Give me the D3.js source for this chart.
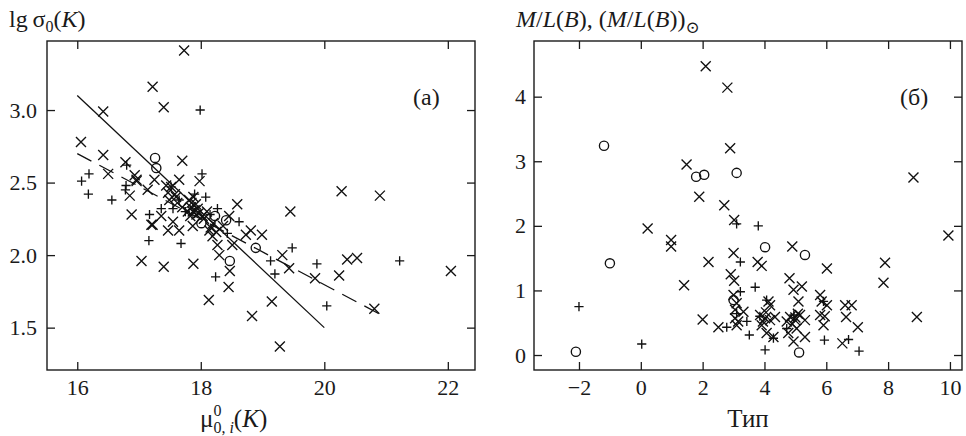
<!DOCTYPE html>
<meta charset="utf-8">
<style>
body{margin:0;background:#fff}
svg text{font-family:"Liberation Serif","Times New Roman","DejaVu Serif",serif;fill:#1a1a1a}
.frame{fill:none;stroke:#1a1a1a;stroke-width:1.4}
.tk line{stroke:#1a1a1a;stroke-width:1.3}
.tk text{font-size:22px}
.mk{fill:none;stroke:#111;stroke-width:1.35}
</style>
<script src="https://d3js.org/d3.v7.min.js"></script>
<svg id="fig" width="966" height="436"></svg>
<script>
// panel (a): lg sigma0 vs mu0
var aTicksX=[16,18,20,22], aTicksY=[1.5,2.0,2.5,3.0];
var aCross=[[17.73,3.41],[17.22,3.16],[16.42,2.99],[17.40,3.02],[16.06,2.78],[16.42,2.69],[17.70,2.65],[16.50,2.56],
 [16.78,2.64],[16.93,2.55],[16.96,2.51],[17.14,2.45],[17.25,2.52],[17.44,2.48],[17.65,2.52],[17.98,2.51],[16.85,2.41],
 [16.88,2.28],[17.22,2.21],[17.36,2.27],[17.49,2.38],[17.47,2.43],[17.52,2.47],[17.47,2.17],[17.65,2.17],[17.55,2.23],
 [17.81,2.38],[17.84,2.33],[17.87,2.30],[17.79,2.30],[17.92,2.35],[17.88,2.40],[17.93,2.28],[18.03,2.27],[17.87,2.20],
 [18.14,2.17],[18.19,2.13],[18.16,2.19],[18.27,2.07],[18.30,2.00],[18.59,2.35],[18.46,2.27],[18.51,2.07],[18.73,2.14],
 [18.81,2.17],[18.99,2.14],[19.45,2.30],[19.32,2.00],[19.43,1.91],[20.28,2.44],[20.90,2.41],[20.37,1.97],[20.53,1.98],
 [20.24,1.86],[19.85,1.84],[20.81,1.63],[22.05,1.89],[17.04,1.96],[17.40,1.92],[17.88,1.94],[18.13,1.69],[18.45,1.78],
 [18.47,1.89],[18.83,1.58],[19.15,1.68],[19.28,1.37],[17.20,2.21],[16.96,2.52],[17.60,2.40],[17.70,2.33],[18.05,2.25],
 [17.95,2.32],[18.36,2.20],[18.10,2.30],[17.85,2.36],[17.90,2.31],[17.83,2.27],[17.97,2.29],[17.58,2.42],[17.62,2.36],
 [18.20,2.22],[18.25,2.16]];
var aPlus=[[17.99,3.00],[16.07,2.51],[16.19,2.56],[16.18,2.42],[16.56,2.38],[16.79,2.48],[16.78,2.45],[18.02,2.56],
 [18.08,2.40],[17.17,2.28],[17.16,2.10],[17.68,2.08],[17.36,2.32],[17.65,2.38],[17.55,2.32],[18.27,2.32],[18.62,2.23],
 [18.43,2.15],[18.24,1.85],[19.13,1.96],[19.48,2.05],[19.20,1.87],[19.88,1.94],[20.04,1.65],[21.22,1.96],[17.52,2.47],
 [17.75,2.30],[18.15,2.28],[16.80,2.62],[17.90,2.42]];
var aCirc=[[17.26,2.67],[17.28,2.60],[18.01,2.22],[18.23,2.27],[18.41,2.24],[18.89,2.05],[18.47,1.96]];
var aSolid=[[16,3.10],[20,1.50]];
var aDash=[[16,2.70],[21,1.57]];

// panel (б): M/L vs type
var bTicksX=[-2,0,2,4,6,8,10], bTicksY=[0,1,2,3,4];
var bCross=[[2.10,4.47],[2.80,4.14],[2.89,3.20],[1.48,2.95],[1.89,2.45],[2.70,2.32],[3.02,2.09],[0.22,1.96],[0.98,1.78],
 [0.98,1.68],[2.19,1.44],[1.40,1.08],[3.00,1.58],[2.91,1.25],[3.02,1.15],[3.00,0.93],[3.10,0.80],[3.32,0.67],[3.05,0.57],
 [3.10,0.46],[2.00,0.55],[2.51,0.43],[3.78,1.44],[3.91,1.38],[4.90,1.68],[4.81,1.19],[4.94,1.01],[5.21,1.06],[5.10,0.83],
 [6.02,1.34],[5.80,0.93],[5.85,0.83],[6.02,0.77],[5.80,0.62],[5.91,0.46],[6.61,0.77],[6.82,0.77],[6.64,0.59],[7.02,0.43],
 [6.52,0.18],[7.85,1.12],[7.90,1.43],[8.82,2.75],[8.93,0.59],[9.95,1.85],[3.86,0.62],[4.02,0.57],[4.18,0.77],[3.91,0.46],
 [4.07,0.34],[4.29,0.28],[4.18,0.54],[4.34,0.59],[4.13,0.83],[4.83,0.59],[4.99,0.54],[5.15,0.62],[4.77,0.34],[4.94,0.21],
 [5.31,0.28],[5.04,0.41],[5.31,0.54],[4.72,0.52],[3.05,0.70],[3.95,0.52],[4.05,0.66],[4.90,0.48],[5.08,0.64],[5.00,0.58],
 [3.15,0.52],[5.95,0.60]];
var bPlus=[[-2.0,0.75],[0.03,0.17],[3.80,2.00],[3.10,2.03],[3.22,1.44],[3.70,1.05],[3.22,0.98],[2.78,0.43],[3.51,0.31],
 [4.02,0.08],[5.94,0.23],[6.72,0.24],[7.06,0.06],[4.07,0.85],[3.10,0.64],[4.72,0.41],[4.29,0.26],[5.91,0.83],[3.43,0.52],
 [3.85,0.60],[4.95,0.62]];
var bCirc=[[-1.19,3.24],[-1.00,1.42],[-2.10,0.05],[1.79,2.76],[2.05,2.79],[3.10,2.82],[4.02,1.67],[5.31,1.55],[5.12,0.04],
 [3.00,0.85]];

var svg=d3.select('#fig');

function panel(o){
  var x=d3.scaleLinear().domain(o.xd).range([o.l,o.r]),
      y=d3.scaleLinear().domain(o.yd).range([o.b,o.t]);
  var g=svg.append('g');
  var tl=8;
  g.append('g').attr('class','tk').attr('transform','translate(0,'+o.b+')')
   .call(d3.axisBottom(x).tickValues(o.tx).tickSize(-tl).tickSizeOuter(0).tickPadding(9).tickFormat(o.fx))
   .call(s=>s.select('.domain').remove());
  g.append('g').attr('class','tk').attr('transform','translate(0,'+o.t+')')
   .call(d3.axisTop(x).tickValues(o.tx).tickSize(-tl).tickSizeOuter(0).tickFormat(''))
   .call(s=>s.select('.domain').remove());
  g.append('g').attr('class','tk').attr('transform','translate('+o.l+',0)')
   .call(d3.axisLeft(y).tickValues(o.ty).tickSize(-tl).tickSizeOuter(0).tickPadding(o.py).tickFormat(o.fy))
   .call(s=>s.select('.domain').remove());
  g.append('g').attr('class','tk').attr('transform','translate('+o.r+',0)')
   .call(d3.axisRight(y).tickValues(o.ty).tickSize(-tl).tickSizeOuter(0).tickFormat(''))
   .call(s=>s.select('.domain').remove());
  g.selectAll('.tk').attr('font-family',null).attr('font-size',null);
  g.append('rect').attr('class','frame').attr('x',o.l).attr('y',o.t)
   .attr('width',o.r-o.l).attr('height',o.b-o.t);
  var s=5, p=4.6;
  g.append('g').selectAll('path').data(o.cross).join('path').attr('class','mk')
   .attr('d',d=>{var cx=x(d[0]),cy=y(d[1]);
     return 'M'+(cx-s)+','+(cy-s)+'L'+(cx+s)+','+(cy+s)+'M'+(cx-s)+','+(cy+s)+'L'+(cx+s)+','+(cy-s);});
  g.append('g').selectAll('path').data(o.plus).join('path').attr('class','mk')
   .attr('d',d=>{var cx=x(d[0]),cy=y(d[1]);
     return 'M'+(cx-p)+','+cy+'L'+(cx+p)+','+cy+'M'+cx+','+(cy-p)+'L'+cx+','+(cy+p);});
  g.append('g').selectAll('circle').data(o.circ).join('circle').attr('class','mk')
   .attr('cx',d=>x(d[0])).attr('cy',d=>y(d[1])).attr('r',4.6);
  return {x:x,y:y,g:g};
}

var A=panel({l:47,r:475,t:41,b:370,xd:[15.51,22.44],yd:[1.208,3.476],tx:aTicksX,ty:aTicksY,
  fx:d3.format('d'),fy:d3.format('.1f'),py:10,cross:aCross,plus:aPlus,circ:aCirc});
var line=d3.line().x(d=>A.x(d[0])).y(d=>A.y(d[1]));
A.g.append('path').attr('d',line(aSolid)).attr('fill','none').attr('stroke','#111').attr('stroke-width',1.3);
A.g.append('path').attr('d',line(aDash)).attr('fill','none').attr('stroke','#111').attr('stroke-width',1.3)
  .attr('stroke-dasharray','16,9');

var B=panel({l:534,r:962,t:41,b:370,xd:[-3.455,10.39],yd:[-0.232,4.862],tx:bTicksX,ty:bTicksY,
  fx:d=>d<0?'\u2212'+(-d):''+d,fy:d3.format('d'),py:8,cross:bCross,plus:bPlus,circ:bCirc});

// labels
svg.append('text').attr('x',9).attr('y',27).attr('font-size',24)
  .html('lg\u2009σ<tspan font-size="16" dy="5">0</tspan><tspan dy="-5">(</tspan><tspan font-style="italic">K</tspan>)');
svg.append('text').attr('x',413).attr('y',105).attr('font-size',24).text('(a)');
svg.append('text').attr('x',900).attr('y',105).attr('font-size',24).text('(б)');
svg.append('text').attr('x',200).attr('y',427).attr('font-size',25)
  .html('μ<tspan font-size="16" dy="-11">0</tspan><tspan font-size="16" dx="-8" dy="17">0, <tspan font-style="italic">i</tspan></tspan><tspan dy="-6">(</tspan><tspan font-style="italic">K</tspan>)');
svg.append('text').attr('x',516).attr('y',27).attr('font-size',24)
  .html('<tspan font-style="italic">M</tspan>/<tspan font-style="italic">L</tspan>(<tspan font-style="italic">B</tspan>), (<tspan font-style="italic">M</tspan>/<tspan font-style="italic">L</tspan>(<tspan font-style="italic">B</tspan>))<tspan font-size="17" dy="6">⊙</tspan>');
svg.append('text').attr('x',748).attr('y',427).attr('font-size',25).attr('text-anchor','middle').text('Тип');
</script>
